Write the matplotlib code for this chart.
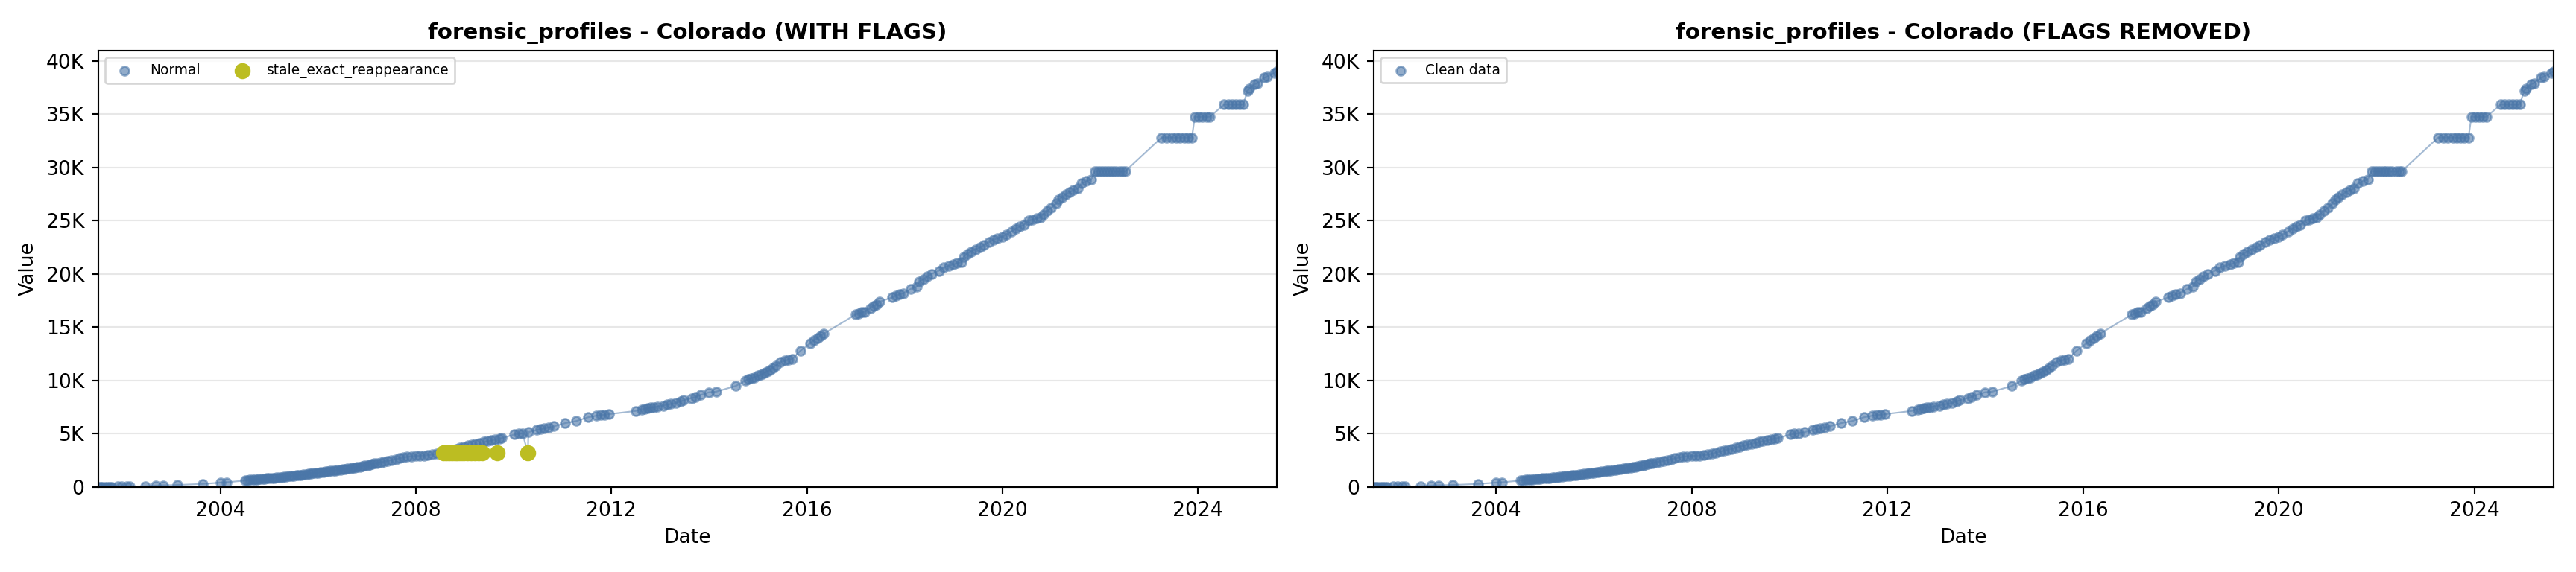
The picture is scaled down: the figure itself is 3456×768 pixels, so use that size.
import numpy as np
import pandas as pd
import matplotlib
matplotlib.use("Agg")
import matplotlib.pyplot as plt
from matplotlib.ticker import FuncFormatter

# ---- data (decimal years, values) ----
normal_years = [
    2001.50, 2001.54, 2001.58, 2001.63, 2001.68, 2001.73, 2001.78, 2001.90, 2001.98, 2002.08, 2002.14,
    2002.46, 2002.67, 2002.83, 2003.11, 2003.63, 2004.00, 2004.12,
    2004.50, 2004.55, 2004.60, 2004.65, 2004.70, 2004.75, 2004.80, 2004.85, 2004.90, 2004.95,
    2005.00, 2005.05, 2005.10, 2005.15, 2005.20, 2005.25, 2005.30, 2005.35, 2005.40, 2005.45,
    2005.50, 2005.55, 2005.60, 2005.65, 2005.70, 2005.75, 2005.80, 2005.85, 2005.90, 2005.95,
    2006.00, 2006.05, 2006.10, 2006.15, 2006.20, 2006.25, 2006.30, 2006.35, 2006.40, 2006.45,
    2006.50, 2006.55, 2006.60, 2006.65, 2006.70, 2006.75, 2006.80, 2006.85, 2006.90, 2006.95,
    2007.00, 2007.05, 2007.10, 2007.15, 2007.20, 2007.28, 2007.35, 2007.42, 2007.50, 2007.58,
    2007.66, 2007.74, 2007.82, 2007.90, 2008.00, 2008.08, 2008.16, 2008.25, 2008.33, 2008.42,
    2008.50, 2008.58, 2008.66, 2008.74, 2008.82, 2008.90, 2008.98, 2009.06, 2009.14, 2009.22,
    2009.30, 2009.38, 2009.46, 2009.54, 2009.62, 2009.70, 2009.76,
    2010.01, 2010.10, 2010.18, 2010.30, 2010.47, 2010.55, 2010.62, 2010.72, 2010.82,
    2011.05, 2011.28, 2011.52, 2011.69, 2011.78, 2011.86, 2011.95,
    2012.50, 2012.62, 2012.68, 2012.74, 2012.80, 2012.87, 2012.94,
    2013.06, 2013.14, 2013.22, 2013.32, 2013.42, 2013.48, 2013.64, 2013.72, 2013.83,
    2014.00, 2014.14, 2014.55, 2014.74, 2014.80, 2014.86, 2014.92,
    2015.00, 2015.06, 2015.12, 2015.18, 2015.24, 2015.30, 2015.36, 2015.46, 2015.55, 2015.62,
    2015.70, 2015.87, 2016.07, 2016.15, 2016.22, 2016.28, 2016.35,
    2017.00, 2017.06, 2017.12, 2017.18, 2017.30, 2017.36, 2017.42, 2017.49, 2017.75, 2017.82,
    2017.90, 2017.98, 2018.13, 2018.25, 2018.30, 2018.38, 2018.46, 2018.55, 2018.70, 2018.80,
    2018.90, 2019.00, 2019.08, 2019.17, 2019.21, 2019.28, 2019.36, 2019.45, 2019.54, 2019.62,
    2019.73, 2019.82, 2019.90, 2020.00, 2020.08, 2020.19, 2020.28, 2020.36, 2020.44, 2020.54,
    2020.62, 2020.70, 2020.78, 2020.84, 2020.92, 2021.00, 2021.10, 2021.15, 2021.22, 2021.30,
    2021.38, 2021.46, 2021.54, 2021.62, 2021.72, 2021.82,
    2021.90, 2021.96, 2022.02, 2022.08, 2022.14, 2022.20, 2022.26, 2022.32, 2022.40, 2022.46, 2022.52,
    2023.26, 2023.36, 2023.46, 2023.56, 2023.64, 2023.72, 2023.80, 2023.88,
    2023.94, 2024.02, 2024.10, 2024.18, 2024.25,
    2024.54, 2024.62, 2024.70, 2024.78, 2024.86, 2024.93,
    2025.02, 2025.06, 2025.16, 2025.22, 2025.36, 2025.42, 2025.57, 2025.62,
]
normal_values = [
    0, 10, 20, 20, 30, 30, 30, 40, 50, 60, 60,
    80, 140, 170, 200, 300, 420, 450,
    620, 650, 670, 690, 710, 730, 750, 770, 790, 810,
    830, 850, 870, 890, 920, 940, 970, 990, 1020, 1040,
    1070, 1100, 1120, 1150, 1180, 1210, 1240, 1270, 1300, 1330,
    1360, 1390, 1420, 1450, 1480, 1510, 1540, 1570, 1600, 1630,
    1670, 1700, 1740, 1770, 1810, 1850, 1880, 1920, 1960, 2000,
    2050, 2100, 2160, 2220, 2270, 2330, 2400, 2470, 2550, 2620,
    2700, 2780, 2840, 2880, 2920, 2950, 2970, 3000, 3050, 3150,
    3250, 3330, 3420, 3520, 3600, 3700, 3800, 3880, 3970, 4060,
    4150, 4230, 4300, 4380, 4470, 4550, 4600,
    4930, 5000, 5050, 5150, 5350, 5450, 5500, 5600, 5700,
    6000, 6200, 6550, 6700, 6750, 6800, 6850,
    7150, 7300, 7350, 7400, 7450, 7500, 7550,
    7650, 7750, 7800, 7900, 8050, 8150, 8350, 8450, 8650,
    8900, 8950, 9500, 10000, 10100, 10200, 10300,
    10450, 10550, 10700, 10850, 11000, 11200, 11400, 11750, 11850, 11950,
    12050, 12800, 13500, 13800, 14000, 14200, 14400,
    16200, 16300, 16400, 16450, 16800, 17000, 17100, 17400, 17800, 17950,
    18100, 18200, 18600, 18800, 19300, 19500, 19750, 20000, 20300, 20600,
    20750, 20900, 21000, 21100, 21600, 21900, 22100, 22300, 22500, 22700,
    23000, 23200, 23350, 23500, 23700, 24000, 24250, 24450, 24600, 25000,
    25100, 25200, 25300, 25600, 25900, 26200, 26600, 27000, 27200, 27450,
    27700, 27850, 28000, 28500, 28700, 28850,
    29650, 29650, 29650, 29650, 29650, 29650, 29650, 29650, 29650, 29650, 29650,
    32800, 32800, 32800, 32800, 32800, 32800, 32800, 32800,
    34750, 34750, 34750, 34750, 34750,
    35900, 35900, 35900, 35900, 35900, 35900,
    37200, 37400, 37800, 37900, 38400, 38500, 38850, 39000,
]
flag_years = [2008.56, 2008.62, 2008.68, 2008.74, 2008.80, 2008.86, 2008.92, 2008.98,
              2009.05, 2009.12, 2009.20, 2009.28, 2009.36, 2009.66, 2010.29]
flag_values = [3200] * len(flag_years)

BLUE = "#4A76A8"
OLIVE = "#bcbd22"


def to_dt(years):
    y = np.asarray(years, dtype=float)
    base = pd.Timestamp("2000-01-01")
    return pd.to_datetime(base + pd.to_timedelta((y - 2000.0) * 365.25, unit="D"))


n_dt = to_dt(normal_years)
f_dt = to_dt(flag_years)
n_val = np.asarray(normal_values, dtype=float)
f_val = np.asarray(flag_values, dtype=float)

all_df = pd.DataFrame({"d": np.concatenate([n_dt.values, f_dt.values]),
                       "v": np.concatenate([n_val, f_val])}).sort_values("d")

plt.rcParams["font.family"] = ["DejaVu Sans"]
fig = plt.figure(figsize=(18, 4), dpi=192)
ax1 = fig.add_axes([0.0382, 0.1484, 0.4575, 0.7631])
ax2 = fig.add_axes([0.5333, 0.1484, 0.4580, 0.7631])

kfmt = FuncFormatter(lambda x, p: "0" if x == 0 else f"{x/1000:.0f}K")

# left: with flags
ax1.plot(all_df["d"], all_df["v"], color=BLUE, alpha=0.5, linewidth=0.8, zorder=1)
ax1.scatter(n_dt, n_val, s=20, color=BLUE, alpha=0.6, label="Normal", zorder=2)
ax1.scatter(f_dt, f_val, s=50, color=OLIVE, label="stale_exact_reappearance", zorder=3)
ax1.set_title("forensic_profiles - Colorado (WITH FLAGS)", fontweight="bold", fontsize=11)
ax1.legend(loc="upper left", fontsize=7, ncol=2)

# right: flags removed
ax2.plot(n_dt, n_val, color=BLUE, alpha=0.5, linewidth=0.8, zorder=1)
ax2.scatter(n_dt, n_val, s=20, color=BLUE, alpha=0.6, label="Clean data", zorder=2)
ax2.set_title("forensic_profiles - Colorado (FLAGS REMOVED)", fontweight="bold", fontsize=11)
ax2.legend(loc="upper left", fontsize=7)

top = max(n_val.max(), f_val.max()) * 1.05
for ax in (ax1, ax2):
    ax.set_xlim(all_df["d"].min(), all_df["d"].max())
    ax.set_ylim(0, top)
    ax.set_yticks(np.arange(0, 40001, 5000))
    ax.yaxis.set_major_formatter(kfmt)
    ax.grid(axis="y", alpha=0.3)
    ax.set_axisbelow(True)
    ax.set_xlabel("Date")
    ax.set_ylabel("Value")

fig.savefig("out.png", dpi=192)
